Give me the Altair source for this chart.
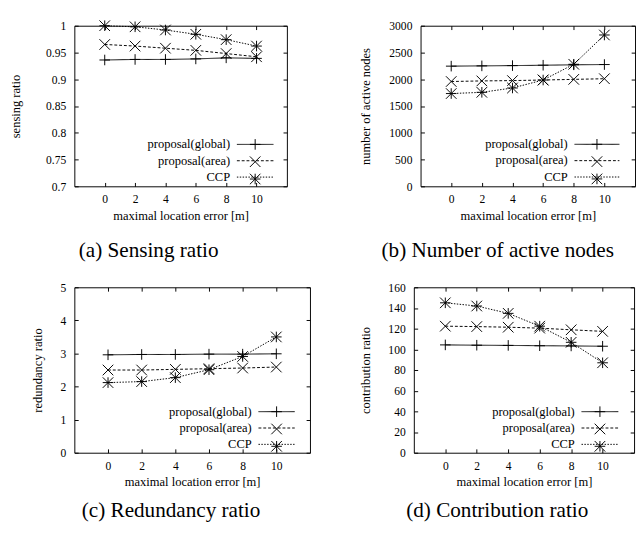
import altair as alt
import pandas as pd

FONT = "Liberation Serif"

errors = [0, 2, 4, 6, 8, 10]
series = ["proposal(global)", "proposal(area)", "CCP"]
keys = ["g", "a", "c"]
xticks = [0, 2, 4, 6, 8, 10]

sensing_global = [0.936, 0.937, 0.937, 0.938, 0.940, 0.939]
sensing_area = [0.965, 0.962, 0.958, 0.954, 0.948, 0.942]
sensing_ccp = [1.000, 0.998, 0.992, 0.984, 0.974, 0.962]

nodes_global = [2245, 2250, 2255, 2262, 2270, 2275]
nodes_area = [1958, 1969, 1975, 1986, 1998, 2010]
nodes_ccp = [1733, 1756, 1837, 1986, 2280, 2827]

redund_global = [2.96, 2.97, 2.97, 2.98, 2.98, 2.99]
redund_area = [2.50, 2.50, 2.52, 2.54, 2.56, 2.59]
redund_ccp = [2.12, 2.15, 2.27, 2.51, 2.91, 3.50]

contrib_global = [104.3, 104.0, 103.8, 103.5, 103.3, 103.0]
contrib_area = [122.4, 122.0, 121.4, 120.5, 118.9, 117.4]
contrib_ccp = [145.0, 141.9, 134.8, 122.4, 106.8, 87.0]

PLUS = "M-1,0H1M0,-1V1"
CROSS = "M-1,-1L1,1M-1,1L1,-1"
STAR = "M-1,0H1M0,-1V1M-1,-1L1,1M-1,1L1,-1"
shapes = [PLUS, CROSS, STAR]
dashes = [[1, 0], [3, 2], [1.5, 1.5]]

MSIZE = 121  # marker half-width 5.5px
GAP = 7
LFS = 13     # legend / axis title font size
TFS = 12     # tick label font size
CFS = 22     # caption font size


def panel(vals, ydom, yvals, yfmt, ytitle, caption, w, h, tpad,
          slen, scx, sy, cap_off):
    df = pd.DataFrame({
        "err": errors * 3,
        "val": vals[0] + vals[1] + vals[2],
        "series": [s for s in series for _ in errors],
        "key": [k for k in keys for _ in errors],
    })
    xs = alt.Scale(domain=[-2, 12], nice=False, zero=False)
    ys = alt.Scale(domain=ydom, nice=False, zero=False)
    ax_b = alt.Axis(values=xticks, orient="bottom", title="maximal location error [m]",
                    domain=False, grid=False, tickSize=4, offset=-4,
                    labelPadding=8, titlePadding=5)
    ax_l = alt.Axis(values=yvals, orient="left", title=ytitle, format=yfmt,
                    domain=False, grid=False, tickSize=4, offset=-4,
                    labelPadding=9, titlePadding=tpad)
    ax_t = alt.Axis(values=xticks, orient="top", title=None, labels=False,
                    domain=False, grid=False, tickSize=4, offset=-4)
    ax_r = alt.Axis(values=yvals, orient="right", title=None, labels=False,
                    domain=False, grid=False, tickSize=4, offset=-4)
    # entry size = max(ceil(sqrt(MSIZE)+1), label font size) = LFS for both legends
    s1 = LFS
    k = (slen / 2) / (MSIZE ** 0.5 / 2)
    stroke_path = f"M-{k:.3f},0H{k:.3f}"
    loff = -(s1 / 2 + slen / 2 + GAP)
    common = dict(orient="none", legendX=scx - s1 / 2, legendY=sy - s1 / 2,
                  title=None, symbolSize=MSIZE, symbolStrokeWidth=1,
                  symbolStrokeColor="black", symbolOffset=0,
                  labelAlign="right", labelOffset={"expr": f"{loff:.2f}"},
                  labelFont=FONT, labelFontSize=LFS, labelColor="black",
                  labelLimit=300, rowPadding=3, padding=0)
    # text + line sample
    leg1 = alt.Legend(symbolType=stroke_path, **common)
    # point markers only, laid over the line samples
    leg2 = alt.Legend(labelExpr="''", labelOpacity=0, **common)
    base = alt.Chart(df)
    lines = base.mark_line(color="black", strokeWidth=1).encode(
        x=alt.X("err:Q", scale=xs, axis=ax_b),
        y=alt.Y("val:Q", scale=ys, axis=ax_l),
        strokeDash=alt.StrokeDash("series:N", sort=series,
                                  scale=alt.Scale(domain=series, range=dashes),
                                  legend=leg1),
    )
    pts = base.mark_point(color="black", filled=False, strokeWidth=1,
                          size=MSIZE, opacity=1).encode(
        x=alt.X("err:Q", scale=xs, axis=ax_t),
        y=alt.Y("val:Q", scale=ys, axis=ax_r),
        shape=alt.Shape("key:N", sort=keys,
                        scale=alt.Scale(domain=keys, range=shapes),
                        legend=leg2),
    )
    return alt.layer(lines, pts).resolve_axis(
        x="independent", y="independent"
    ).properties(
        width=w, height=h,
        title=alt.TitleParams(text=caption, orient="bottom", anchor="middle",
                              frame="bounds", font=FONT, fontSize=CFS,
                              fontWeight="normal", color="black", offset=cap_off),
    )


pa = panel([sensing_global, sensing_area, sensing_ccp], [0.7, 1.0],
           [0.7, 0.75, 0.8, 0.85, 0.9, 0.95, 1.0], ".2~f", "sensing ratio",
           "(a) Sensing ratio", 221, 167, 24, 38, 188, 123.4, 19)
pb = panel([nodes_global, nodes_area, nodes_ccp], [0, 3000],
           [0, 500, 1000, 1500, 2000, 2500, 3000], "d", "number of active nodes",
           "(b) Number of active nodes", 223, 167, 17, 46.7, 183.4, 123.3, 19)
pc = panel([redund_global, redund_area, redund_ccp], [0, 5],
           [0, 1, 2, 3, 4, 5], "d", "redundancy ratio",
           "(c) Redundancy ratio", 245, 172, 16.5, 37.7, 210.3, 129.3, 13)
pd_ = panel([contrib_global, contrib_area, contrib_ccp], [0, 160],
            [0, 20, 40, 60, 80, 100, 120, 140, 160], "d", "contribution ratio",
            "(d) Contribution ratio", 229, 172, 16, 38.3, 193.5, 129.3, 13)

indep = dict(strokeDash="independent", shape="independent")

chart = alt.concat(
    pa, pb, pc, pd_, columns=2, align="none",
    spacing={"row": 20, "column": 50},
).resolve_scale(**indep).resolve_legend(**indep).properties(
    padding={"left": 1, "top": 0, "right": 0, "bottom": 0}
).configure_view(
    stroke="black", strokeWidth=1
).configure_axis(
    labelFont=FONT, labelFontSize=TFS, labelColor="black",
    titleFont=FONT, titleFontSize=LFS, titleColor="black", titleFontWeight="normal",
    tickColor="black", tickWidth=1,
)

chart.save("out.html", embed_options={"renderer": "svg", "actions": False})
